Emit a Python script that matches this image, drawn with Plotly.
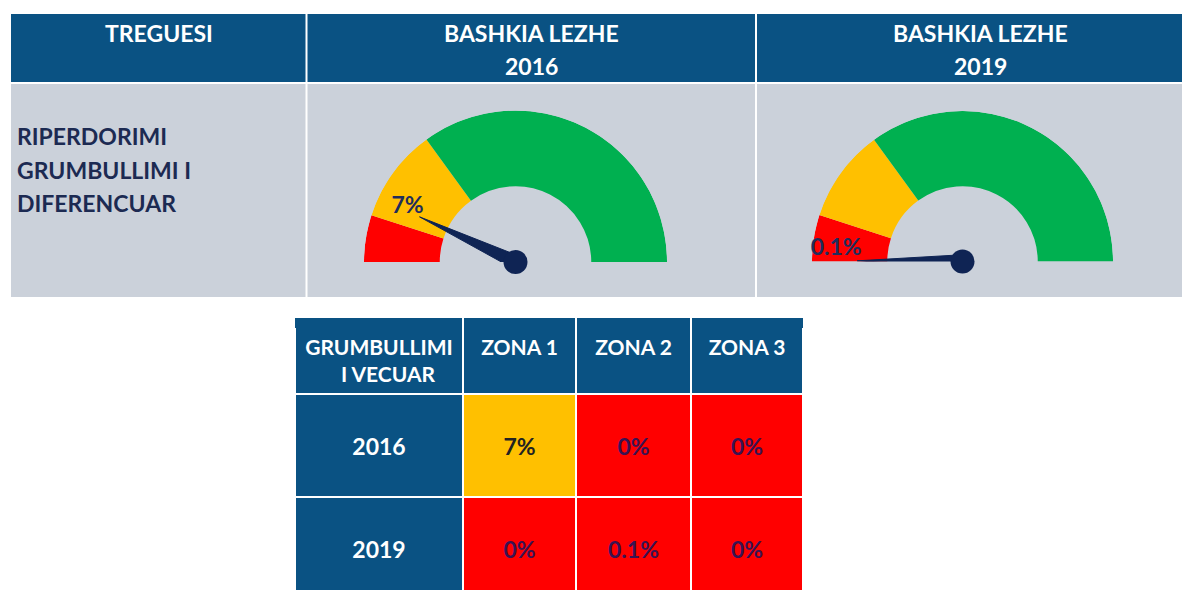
import plotly.graph_objects as go

# ---------------- data ----------------
top_headers = ["TREGUESI", "BASHKIA LEZHE", "BASHKIA LEZHE"]
top_years = ["", "2016", "2019"]
indicator_lines = ["RIPERDORIMI", "GRUMBULLIMI I", "DIFERENCUAR"]

gauge_values = [7, 0.1]            # % for 2016, 2019
gauge_labels = ["7%", "0.1%"]
gauge_max = 50
band_edges = [0, 5, 15, 50]        # red / yellow / green thresholds
band_colors = ["#FF0000", "#FFC000", "#00B050"]

table_header = [["GRUMBULLIMI", "I VECUAR"], ["ZONA 1"], ["ZONA 2"], ["ZONA 3"]]
table_years = ["2016", "2019"]
zona1 = [7, 0]
zona2 = [0, 0.1]
zona3 = [0, 0]

# ---------------- styles ----------------
OFF = 8                      # page body margin
W, H = 1190 - OFF, 590 - OFF
BLUE = "#0A5283"
GRAY = "#CBD1DA"
NAVY = "#0F2454"
TXT = "#1C2A52"
FONT = "Lato"
NBSP = "\u00a0"


def px(x):
    return (x - OFF) / W


def py(y):
    return 1 - (y - OFF) / H


def band_color(v):
    for lo, hi, c in zip(band_edges[:-1], band_edges[1:], band_colors):
        if lo <= v < hi:
            return c
    return band_colors[-1]


fig = go.Figure()

# ---------------- top frame (cells) ----------------
col_x = [(11, 305.5), (307.5, 755), (757, 1200)]
shapes = []
for x0, x1 in col_x:
    shapes.append(dict(type="rect", xref="paper", yref="paper",
                       x0=px(x0), x1=px(x1), y0=py(82), y1=py(14),
                       fillcolor=BLUE, line=dict(width=0), layer="below"))
    shapes.append(dict(type="rect", xref="paper", yref="paper",
                       x0=px(x0), x1=px(x1), y0=py(297), y1=py(84),
                       fillcolor=GRAY, line=dict(width=0), layer="below"))

annotations = []
centers = [158.5, 531, 980]
for cx, h, yr in zip(centers, top_headers, top_years):
    annotations.append(dict(x=px(cx), y=py(33), xref="paper", yref="paper",
                            xanchor="center", yanchor="middle",
                            text=f"<b>{h}</b>", showarrow=False,
                            font=dict(family=FONT, size=23, color="white")))
    if yr:
        annotations.append(dict(x=px(cx), y=py(66), xref="paper", yref="paper",
                                xanchor="center", yanchor="middle",
                                text=f"<b>{yr}</b>", showarrow=False,
                                font=dict(family=FONT, size=23, color="white")))
for i, line in enumerate(indicator_lines):
    annotations.append(dict(x=px(15), y=py(136 + 33.5 * i), xref="paper", yref="paper",
                            text=f"<b>{line}</b>", showarrow=False,
                            xanchor="left", yanchor="middle",
                            font=dict(family=FONT, size=23, color=TXT)))

# ---------------- gauges ----------------
k = 180 / gauge_max
gauge_domains = [(364, 667), (812, 1113)]
for gi, (val, lab, (gx0, gx1)) in enumerate(zip(gauge_values, gauge_labels, gauge_domains)):
    pid = "polar" if gi == 0 else f"polar{gi + 1}"
    lo = band_edges[:-1]
    hi = band_edges[1:]
    fig.add_trace(go.Barpolar(
        theta=[(a + b) / 2 * k for a, b in zip(lo, hi)],
        width=[(b - a) * k for a, b in zip(lo, hi)],
        r=[0.5] * len(lo), base=[0.5] * len(lo),
        marker=dict(color=band_colors, line=dict(width=0)),
        subplot=pid, showlegend=False, hoverinfo="skip"))
    th = val * k
    # needle
    fig.add_trace(go.Scatterpolar(
        r=[0.045, 0.70, 0.045, 0.045],
        theta=[th - 90, th, th + 90, th - 90],
        mode="lines", fill="toself", fillcolor=NAVY, line=dict(color=NAVY, width=1),
        subplot=pid, showlegend=False, hoverinfo="skip"))
    # hub
    fig.add_trace(go.Scatterpolar(
        r=[0], theta=[0], mode="markers", marker=dict(size=24, color=NAVY),
        cliponaxis=False, subplot=pid, showlegend=False, hoverinfo="skip"))
    # label
    fig.add_trace(go.Scatterpolar(
        r=[0.67], theta=[th], mode="text", text=[f"<b>{lab}</b>"],
        textposition="top left", cliponaxis=False,
        textfont=dict(family=FONT, size=23, color="#1F2D5C"),
        subplot=pid, showlegend=False, hoverinfo="skip"))
    fig.update_layout({pid: dict(
        domain=dict(x=[px(gx0), px(gx1)], y=[py(262), py(110.5)]),
        sector=[0, 180], bgcolor="rgba(0,0,0,0)", barmode="overlay",
        angularaxis=dict(rotation=180, direction="clockwise", visible=False,
                         showgrid=False, showline=False, showticklabels=False, ticks=""),
        radialaxis=dict(range=[0, 1], visible=False, showgrid=False,
                        showline=False, showticklabels=False, ticks=""),
    )})

# ---------------- bottom table ----------------
tbl_cols = [(295, 462), (464, 575), (577, 690), (692, 803)]
for x0, x1 in tbl_cols:   # top strip of header cells (table text is top-aligned)
    shapes.append(dict(type="rect", xref="paper", yref="paper",
                       x0=px(x0), x1=px(x1), y0=py(328), y1=py(318),
                       fillcolor=BLUE, line=dict(width=0), layer="above"))


def header_text(lines):
    out = [f"<b>{lines[0]}</b>"]
    for ln in lines[1:]:
        pad = NBSP * round((len(lines[0]) - len(ln)) * 2.3)   # visually centre wrapped line
        out.append(f"<b>{pad}{ln}</b>")
    return "<br>".join(out)


zones = [zona1, zona2, zona3]
cell_text = [[f"{NBSP}<br><b>{y}</b>" for y in table_years]]
cell_fill = [[BLUE] * len(table_years)]
cell_fcol = [["white"] * len(table_years)]
for z in zones:
    cell_text.append([f"{NBSP}<br><b>{v:g}%</b>" for v in z])
    cell_fill.append([band_color(v) for v in z])
    cell_fcol.append(["#222222" if band_color(v) == "#FFC000" else "#3A1352" for v in z])

fig.add_trace(go.Table(
    domain=dict(x=[px(295), px(803)], y=[0, py(326)]),
    columnwidth=[168, 113, 115, 112],
    header=dict(values=[header_text(h) for h in table_header],
                fill_color=BLUE, line=dict(color="white", width=2),
                font=dict(family=FONT, size=21, color="white"),
                align="center", height=67),
    cells=dict(values=cell_text, fill_color=cell_fill,
               line=dict(color="white", width=2),
               font=dict(family=FONT, size=23, color=cell_fcol),
               align="center", height=103),
))

fig.update_layout(width=W, height=H, margin=dict(l=0, r=0, t=0, b=0),
                  paper_bgcolor="white", plot_bgcolor="white",
                  shapes=shapes, annotations=annotations, showlegend=False)

fig.write_html("out.html")
